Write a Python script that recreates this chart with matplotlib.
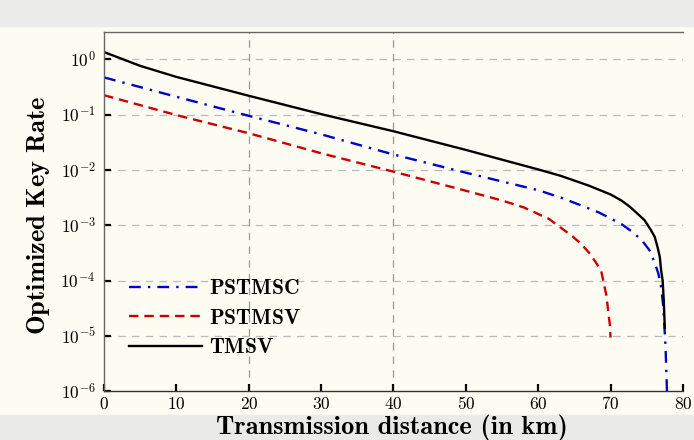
import matplotlib
matplotlib.use("Agg")
import matplotlib.pyplot as plt
from matplotlib.patches import Rectangle

# Optimized key rate vs transmission distance

plt.rcParams['mathtext.fontset'] = 'cm'

# TMSV
dist_tmsv = [0, 5, 10, 20, 30, 40, 50, 60, 63, 67, 70, 71.5, 72.7, 74, 74.7, 75.5, 76.1,
             76.5, 76.8, 77.0, 77.2, 77.35, 77.5]
rate_tmsv = [1.35, 0.76, 0.48, 0.219, 0.102, 0.050, 0.023, 0.0102, 0.0079, 0.0052, 0.0036,
             0.0028, 0.00214, 0.0015, 0.00123, 8.5e-4, 6.2e-4, 4.0e-4, 2.7e-4, 1.5e-4,
             1.0e-4, 4.5e-5, 1.4e-5]

# PSTMSC
dist_pstmsc = [0, 10, 20, 30, 40, 50, 60, 63, 65.5, 68.4, 71.5, 73, 74.3, 75.4, 76.1, 76.6,
               77.0, 77.3, 77.6, 77.8]
rate_pstmsc = [0.47, 0.21, 0.095, 0.044, 0.019, 0.0089, 0.0043, 0.0032, 0.0024, 0.0017,
               0.00105, 7.6e-4, 5.4e-4, 3.5e-4, 2.1e-4, 1.35e-4, 7.6e-5, 3.3e-5, 6.3e-6,
               1.0e-6]

# PSTMSV
dist_pstmsv = [0, 10, 20, 30, 40, 50, 55, 58, 61.5, 64.8, 66, 67.1, 68, 68.7, 69.4, 69.9,
               70.0]
rate_pstmsv = [0.224, 0.098, 0.046, 0.020, 0.0093, 0.0042, 0.0028, 0.0021, 0.0013, 6.2e-4,
               4.5e-4, 3.1e-4, 2.1e-4, 1.5e-4, 5.6e-5, 1.6e-5, 9.3e-6]

xticks = [0, 10, 20, 30, 40, 50, 60, 70, 80]
yexps = [0, -1, -2, -3, -4, -5, -6]
vgrid = [20, 40]

bg = '#fdfcf3'
fig = plt.figure(figsize=(6.94, 4.40), dpi=100, facecolor=bg)
# grey bands of the screenshot
fig.patches.append(Rectangle((0, 0.94), 1, 0.06, transform=fig.transFigure,
                             color='#ececea', zorder=-1))
fig.patches.append(Rectangle((0, 0), 1, 0.057, transform=fig.transFigure,
                             color='#eaeae8', zorder=-1))

ax = fig.add_axes([0.150, 0.111, 0.834, 0.816])
ax.set_facecolor(bg)

ax.plot(dist_pstmsc, rate_pstmsc, color='#0000cc', lw=1.7, ls=(0, (5, 3, 1, 3)),
        label=r'$\mathbf{PSTMSC}$')
ax.plot(dist_pstmsv, rate_pstmsv, color='#cc0000', lw=1.7, ls=(0, (4, 2.5)),
        label=r'$\mathbf{PSTMSV}$')
ax.plot(dist_tmsv, rate_tmsv, color='black', lw=1.7, label=r'$\mathbf{TMSV}$')

ax.set_yscale('log')
ax.set_xlim(0, 80)
ax.set_ylim(1e-6, 3.1)

# dashed grid
for e in yexps[:-1]:
    ax.axhline(10.0 ** e, color='#bbbbbb', lw=0.9, ls=(0, (6, 5)), zorder=0)
for v in vgrid:
    ax.axvline(v, color='#999999', lw=0.9, ls=(0, (6, 5)), zorder=0)

ax.set_xticks(xticks)
ax.set_xticklabels([r'$\mathbf{%d}$' % v for v in xticks])
ax.set_yticks([10.0 ** e for e in yexps])
ax.set_yticklabels([r'$\mathbf{10^{%d}}$' % e for e in yexps])
ax.minorticks_off()
ax.tick_params(direction='in', length=5, width=1.6, labelsize=12.5, color='black')
ax.tick_params(axis='x', pad=3)
ax.tick_params(axis='y', pad=6)

ax.spines['right'].set_visible(False)
ax.spines['top'].set_color('#666666')
ax.spines['left'].set_color('#666666')
ax.spines['bottom'].set_color('#333333')
for s in ax.spines.values():
    s.set_linewidth(1.0)

ax.set_xlabel('Transmission distance (in km)', fontsize=19, family='cmb10')
ax.xaxis.set_label_coords(0.497, -0.064)
ax.set_ylabel(r'$\mathbf{Optimized\ Key\ Rate}$', fontsize=19)
ax.yaxis.set_label_coords(-0.09, 0.49)

ax.legend(loc='lower left', bbox_to_anchor=(0.01, 0.04), frameon=False, fontsize=15.5,
          handlelength=3.4, handletextpad=0.3, labelspacing=0.45)

fig.savefig('out.png', dpi=100, facecolor=bg)
